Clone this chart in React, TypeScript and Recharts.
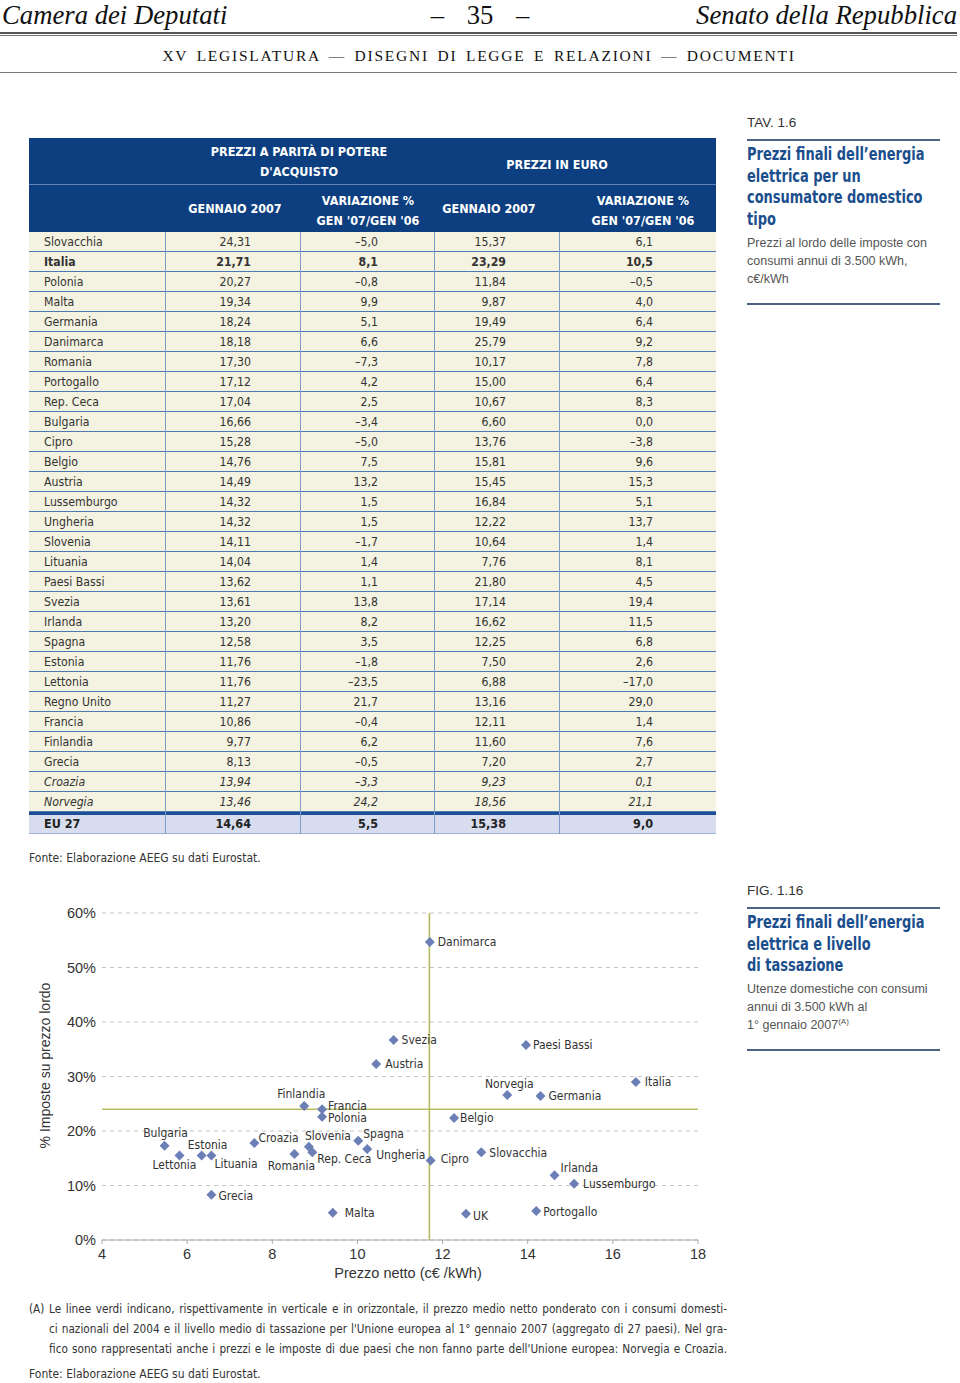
import React from 'react';
import { ScatterChart, Scatter, XAxis, YAxis, CartesianGrid, ReferenceLine } from 'recharts';

const NARROW = "'DejaVu Sans Condensed', 'DejaVu Sans', sans-serif";
const SANS = "'Liberation Sans', Arial, sans-serif";
const SERIF = "'Liberation Serif', 'DejaVu Serif', serif";

const BLU = '#0d3f80';
const TITOLO = '#1b4e8c';

// TAV. 1.6 - prezzi al lordo delle imposte, c€/kWh
const paesi = [
  'Slovacchia', 'Italia', 'Polonia', 'Malta', 'Germania', 'Danimarca', 'Romania', 'Portogallo',
  'Rep. Ceca', 'Bulgaria', 'Cipro', 'Belgio', 'Austria', 'Lussemburgo', 'Ungheria', 'Slovenia',
  'Lituania', 'Paesi Bassi', 'Svezia', 'Irlanda', 'Spagna', 'Estonia', 'Lettonia', 'Regno Unito',
  'Francia', 'Finlandia', 'Grecia', 'Croazia', 'Norvegia',
];
const ppaGen07 = [
  24.31, 21.71, 20.27, 19.34, 18.24, 18.18, 17.3, 17.12, 17.04, 16.66, 15.28, 14.76, 14.49, 14.32,
  14.32, 14.11, 14.04, 13.62, 13.61, 13.2, 12.58, 11.76, 11.76, 11.27, 10.86, 9.77, 8.13, 13.94, 13.46,
];
const ppaVar = [
  -5.0, 8.1, -0.8, 9.9, 5.1, 6.6, -7.3, 4.2, 2.5, -3.4, -5.0, 7.5, 13.2, 1.5, 1.5, -1.7, 1.4, 1.1,
  13.8, 8.2, 3.5, -1.8, -23.5, 21.7, -0.4, 6.2, -0.5, -3.3, 24.2,
];
const euroGen07 = [
  15.37, 23.29, 11.84, 9.87, 19.49, 25.79, 10.17, 15.0, 10.67, 6.6, 13.76, 15.81, 15.45, 16.84,
  12.22, 10.64, 7.76, 21.8, 17.14, 16.62, 12.25, 7.5, 6.88, 13.16, 12.11, 11.6, 7.2, 9.23, 18.56,
];
const euroVar = [
  6.1, 10.5, -0.5, 4.0, 6.4, 9.2, 7.8, 6.4, 8.3, 0.0, -3.8, 9.6, 15.3, 5.1, 13.7, 1.4, 8.1, 4.5,
  19.4, 11.5, 6.8, 2.6, -17.0, 29.0, 1.4, 7.6, 2.7, 0.1, 21.1,
];
const eu27 = { nome: 'EU 27', ppa: 14.64, ppaVar: 5.5, euro: 15.38, euroVar: 9.0 };
const paesiExtraUe = ['Croazia', 'Norvegia'];

// FIG. 1.16 - prezzo netto (c€/kWh) e quota imposte (%)
const scatterPaesi = [
  'Danimarca', 'Svezia', 'Austria', 'Paesi Bassi', 'Italia', 'Norvegia', 'Germania', 'Finlandia',
  'Francia', 'Polonia', 'Belgio', 'Bulgaria', 'Estonia', 'Lettonia', 'Lituania', 'Croazia',
  'Slovenia', 'Spagna', 'Romania', 'Rep. Ceca', 'Ungheria', 'Cipro', 'Slovacchia', 'Irlanda',
  'Lussemburgo', 'Grecia', 'Malta', 'UK', 'Portogallo',
];
const prezzoNetto = [
  11.7, 10.85, 10.44, 13.96, 16.54, 13.52, 14.3, 8.75, 9.17, 9.17, 12.27, 5.47, 6.34, 5.82, 6.57,
  7.58, 8.86, 10.02, 8.52, 8.94, 10.23, 11.72, 12.91, 14.63, 15.09, 6.57, 9.42, 12.55, 14.2,
];
const quotaImposte = [
  54.7, 36.7, 32.3, 35.8, 29.0, 26.6, 26.4, 24.6, 24.0, 22.6, 22.4, 17.3, 15.5, 15.5, 15.5, 17.8,
  17.1, 18.2, 15.8, 16.1, 16.7, 14.6, 16.1, 11.9, 10.3, 8.3, 5.0, 4.8, 5.3,
];
const mediaPrezzoNetto = 11.69;
const mediaImposte = 24.0;
const xTicks = [4, 6, 8, 10, 12, 14, 16, 18];
const yTicks = [0, 10, 20, 30, 40, 50, 60];

// posizione etichette: [dx, dy, ancoraggio]
const LABEL_POS: Record<string, [number, number, 'start' | 'middle' | 'end']> = {
  Danimarca: [8, 0, 'start'],
  Svezia: [8, 0, 'start'],
  Austria: [9, 0, 'start'],
  'Paesi Bassi': [7, 0, 'start'],
  Italia: [9, 0, 'start'],
  Norvegia: [2, -11, 'middle'],
  Germania: [8, 0, 'start'],
  Finlandia: [-3, -12, 'middle'],
  Francia: [6, -3, 'start'],
  Polonia: [6, 1, 'start'],
  Belgio: [6, 0, 'start'],
  Bulgaria: [1, -13, 'middle'],
  Estonia: [6, -11, 'middle'],
  Lettonia: [-5, 9, 'middle'],
  Lituania: [3, 8, 'start'],
  Croazia: [4, -5, 'start'],
  Slovenia: [-4, -11, 'start'],
  Spagna: [5, -7, 'start'],
  Romania: [-3, 12, 'middle'],
  'Rep. Ceca': [5, 7, 'start'],
  Ungheria: [9, 6, 'start'],
  Cipro: [10, -1, 'start'],
  Slovacchia: [8, 1, 'start'],
  Irlanda: [6, -7, 'start'],
  Lussemburgo: [9, 0, 'start'],
  Grecia: [7, 1, 'start'],
  Malta: [12, 0, 'start'],
  UK: [7, 2, 'start'],
  Portogallo: [7, 1, 'start'],
};

const puntiScatter = scatterPaesi.map((name, i) => ({ name, x: prezzoNetto[i], y: quotaImposte[i] }));

const fmt = (v: number, d: number) => (v < 0 ? '–' : '') + Math.abs(v).toFixed(d).replace('.', ',');

function Punto(props: any) {
  const { cx, cy, payload } = props;
  const p = LABEL_POS[payload.name] ?? [8, 0, 'start'];
  return (
    <g>
      <polygon points={`${cx},${cy - 5} ${cx + 5},${cy} ${cx},${cy + 5} ${cx - 5},${cy}`} fill="#6b7fb6" />
      <text
        x={cx + p[0]}
        y={cy + p[1]}
        textAnchor={p[2]}
        dominantBaseline="central"
        fontFamily={NARROW}
        fontSize={12}
        fill="#333"
      >
        {payload.name}
      </text>
    </g>
  );
}

function abs(left: number, top: number, extra: React.CSSProperties = {}): React.CSSProperties {
  return { position: 'absolute', left, top, ...extra };
}

function Riga({ top, left = 0, width = 957, h = 1, color = '#777' }: any) {
  return <div style={abs(left, top, { width, height: h, background: color })} />;
}

// testo centrato su cx, una o più righe
function Centro({ cx, top, lines, w = 240, style }: any) {
  return (
    <div style={abs(cx - w / 2, top, { width: w, textAlign: 'center', lineHeight: '20px', ...style })}>
      {lines.map((l: string) => (
        <div key={l}>{l}</div>
      ))}
    </div>
  );
}

function Tabella() {
  const colLines = [136, 271, 405, 530];
  const rightEdges = [222, 349, 477, 624];
  const cella = (txt: string, i: number) => (
    <div key={i} style={abs(0, 0, { width: rightEdges[i], textAlign: 'right' })}>
      {txt}
    </div>
  );
  const header: React.CSSProperties = { color: '#fff', fontFamily: NARROW, fontWeight: 700, fontSize: 12.5 };
  return (
    <div style={abs(29, 138, { width: 687, height: 696 })}>
      <div style={abs(0, 0, { width: 687, height: 94, background: BLU })} />
      <Riga top={46} left={0} width={687} color="#5f82b9" />
      <Centro cx={270} top={4} lines={['PREZZI A PARITÀ DI POTERE', "D'ACQUISTO"]} style={header} />
      <Centro cx={528} top={17} lines={['PREZZI IN EURO']} style={header} />
      <Centro cx={206} top={61} lines={['GENNAIO 2007']} w={130} style={header} />
      <Centro cx={339} top={53} lines={['VARIAZIONE %', "GEN '07/GEN '06"]} w={130} style={header} />
      <Centro cx={460} top={61} lines={['GENNAIO 2007']} w={130} style={header} />
      <Centro cx={614} top={53} lines={['VARIAZIONE %', "GEN '07/GEN '06"]} w={150} style={header} />

      {paesi.map((nome, i) => {
        const bold = nome === 'Italia';
        const italic = paesiExtraUe.includes(nome);
        return (
          <div
            key={nome}
            style={abs(0, 94 + i * 20, {
              width: 687,
              height: 19,
              lineHeight: '20px',
              background: '#f4f2e0',
              borderBottom: '1px solid #4e78b3',
              fontFamily: NARROW,
              fontSize: 12.2,
              color: '#333',
              fontWeight: bold ? 700 : 400,
              fontStyle: italic ? 'italic' : 'normal',
            })}
          >
            <div style={abs(15, 0)}>{nome}</div>
            {cella(fmt(ppaGen07[i], 2), 0)}
            {cella(fmt(ppaVar[i], 1), 1)}
            {cella(fmt(euroGen07[i], 2), 2)}
            {cella(fmt(euroVar[i], 1), 3)}
          </div>
        );
      })}
      <div style={abs(0, 94 + paesi.length * 20, { width: 687, height: 3, background: '#1d4f94' })} />
      <div
        style={abs(0, 97 + paesi.length * 20, {
          width: 687,
          height: 18,
          lineHeight: '18px',
          background: '#d7dcef',
          borderBottom: '1px solid #9db1d6',
          fontFamily: NARROW,
          fontSize: 12.5,
          color: '#222',
          fontWeight: 700,
        })}
      >
        <div style={abs(15, 0)}>{eu27.nome}</div>
        {cella(fmt(eu27.ppa, 2), 0)}
        {cella(fmt(eu27.ppaVar, 1), 1)}
        {cella(fmt(eu27.euro, 2), 2)}
        {cella(fmt(eu27.euroVar, 1), 3)}
      </div>
      {colLines.map((x) => (
        <div key={x} style={abs(x, 94, { width: 1, height: 602, background: '#7f9cc8' })} />
      ))}
    </div>
  );
}

function Scheda({ top, sigla, titolo, sotto, lineaFine }: any) {
  const titoloTop = top + 29;
  return (
    <>
      <div style={abs(747, top, { fontFamily: SANS, fontSize: 13.5, color: '#333', lineHeight: '18px' })}>{sigla}</div>
      <Riga top={top + 25} left={747} width={193} h={1.5} color="#4a6382" />
      <div
        style={abs(747, titoloTop, {
          width: 240,
          fontFamily: NARROW,
          fontWeight: 700,
          fontSize: 18.5,
          lineHeight: '21.7px',
          color: TITOLO,
          whiteSpace: 'nowrap',
          transform: 'scaleX(0.78)',
          transformOrigin: 'left top',
        })}
      >
        {titolo.map((t: string) => (
          <div key={t}>{t}</div>
        ))}
      </div>
      <div
        style={abs(747, titoloTop + titolo.length * 21.7 + 4, {
          width: 200,
          fontFamily: SANS,
          fontSize: 12.5,
          lineHeight: '18px',
          color: '#555',
          whiteSpace: 'nowrap',
        })}
      >
        {sotto.map((t: any, i: number) => (
          <div key={i}>{t}</div>
        ))}
      </div>
      <Riga top={lineaFine} left={747} width={193} h={1.5} color="#4a6382" />
    </>
  );
}

function Grafico() {
  return (
    <div style={abs(0, 890)}>
      <ScatterChart width={720} height={410} margin={{ top: 23, right: 22, bottom: 0, left: 42 }}>
        <CartesianGrid vertical={false} stroke="#c4c4c4" strokeDasharray="4 4" />
        <XAxis
          type="number"
          dataKey="x"
          domain={[4, 18]}
          ticks={xTicks}
          stroke="#aaa"
          tickSize={4}
          tickMargin={5}
          height={60}
          tick={{ fill: '#333', fontSize: 14.5, fontFamily: SANS }}
          label={{
            value: 'Prezzo netto (c€ /kWh)',
            position: 'insideBottom',
            offset: 22,
            dx: 8,
            fill: '#333',
            fontSize: 14.5,
            fontFamily: SANS,
          }}
        />
        <YAxis
          type="number"
          dataKey="y"
          domain={[0, 60]}
          ticks={yTicks}
          width={60}
          axisLine={false}
          tickLine={false}
          tickSize={0}
          tickMargin={6}
          tickFormatter={(v: number) => `${v}%`}
          tick={{ fill: '#333', fontSize: 14.5, fontFamily: SANS }}
          label={{
            value: '% Imposte su prezzo lordo',
            angle: -90,
            position: 'center',
            dx: -27,
            dy: -11,
            fill: '#333',
            fontSize: 14,
            fontFamily: SANS,
          }}
        />
        <ReferenceLine x={mediaPrezzoNetto} stroke="#b6bb5e" strokeWidth={1.6} />
        <ReferenceLine y={mediaImposte} stroke="#b6bb5e" strokeWidth={1.6} />
        <Scatter data={puntiScatter} shape={<Punto />} isAnimationActive={false} />
      </ScatterChart>
    </div>
  );
}

const nota = [
  'Le linee verdi indicano, rispettivamente in verticale e in orizzontale, il prezzo medio netto ponderato con i consumi domesti-',
  "ci nazionali del 2004 e il livello medio di tassazione per l'Unione europea al 1° gennaio 2007 (aggregato di 27 paesi). Nel gra-",
  "fico sono rappresentati anche i prezzi e le imposte di due paesi che non fanno parte dell'Unione europea: Norvegia e Croazia.",
];

export default function App() {
  const testa: React.CSSProperties = { fontFamily: SERIF, fontSize: 26.7, lineHeight: '30px', color: '#111' };
  return (
    <div style={abs(0, 0, { width: 960, height: 1383, background: '#fff', overflow: 'hidden' })}>
      <div style={abs(2, 0, { ...testa, fontStyle: 'italic' })}>Camera dei Deputati</div>
      <div style={abs(380, 0, { ...testa, width: 200, textAlign: 'center', wordSpacing: 16 })}>– 35 –</div>
      <div style={abs(457, 0, { ...testa, width: 500, textAlign: 'right', fontStyle: 'italic' })}>Senato della Repubblica</div>
      <Riga top={32} h={2} color="#555" />
      <Riga top={35} h={1} color="#777" />
      <div
        style={abs(0, 46, {
          width: 958,
          textAlign: 'center',
          fontFamily: SERIF,
          fontSize: 15.5,
          lineHeight: '20px',
          letterSpacing: 1.75,
          wordSpacing: 3,
          color: '#111',
        })}
      >
        XV LEGISLATURA — DISEGNI DI LEGGE E RELAZIONI — DOCUMENTI
      </div>
      <Riga top={72} h={1} color="#777" />

      <Tabella />
      <div style={abs(29, 849, { fontFamily: NARROW, fontSize: 12, color: '#333', lineHeight: '18px' })}>
        Fonte: Elaborazione AEEG su dati Eurostat.
      </div>

      <Scheda
        top={114}
        sigla="TAV. 1.6"
        titolo={["Prezzi finali dell’energia", 'elettrica per un', 'consumatore domestico', 'tipo']}
        sotto={['Prezzi al lordo delle imposte con', 'consumi annui di 3.500 kWh,', 'c€/kWh']}
        lineaFine={303}
      />
      <Scheda
        top={882}
        sigla="FIG. 1.16"
        titolo={["Prezzi finali dell’energia", 'elettrica e livello', 'di tassazione']}
        sotto={[
          'Utenze domestiche con consumi',
          'annui di 3.500 kWh al',
          <span key="s">
            1° gennaio 2007<sup style={{ fontSize: 8, lineHeight: 0 }}>(A)</sup>
          </span>,
        ]}
        lineaFine={1049}
      />

      <Grafico />

      <div style={abs(29, 1299, { fontFamily: NARROW, fontSize: 11.7, lineHeight: '20px', color: '#333' })}>(A)</div>
      <div style={abs(49, 1299, { width: 678, fontFamily: NARROW, fontSize: 11.7, lineHeight: '20px', color: '#333' })}>
        {nota.map((l) => (
          <div key={l} style={{ textAlign: 'justify', textAlignLast: 'justify' }}>
            {l}
          </div>
        ))}
      </div>
      <div style={abs(29, 1365, { fontFamily: NARROW, fontSize: 12, color: '#333', lineHeight: '18px' })}>
        Fonte: Elaborazione AEEG su dati Eurostat.
      </div>
    </div>
  );
}
